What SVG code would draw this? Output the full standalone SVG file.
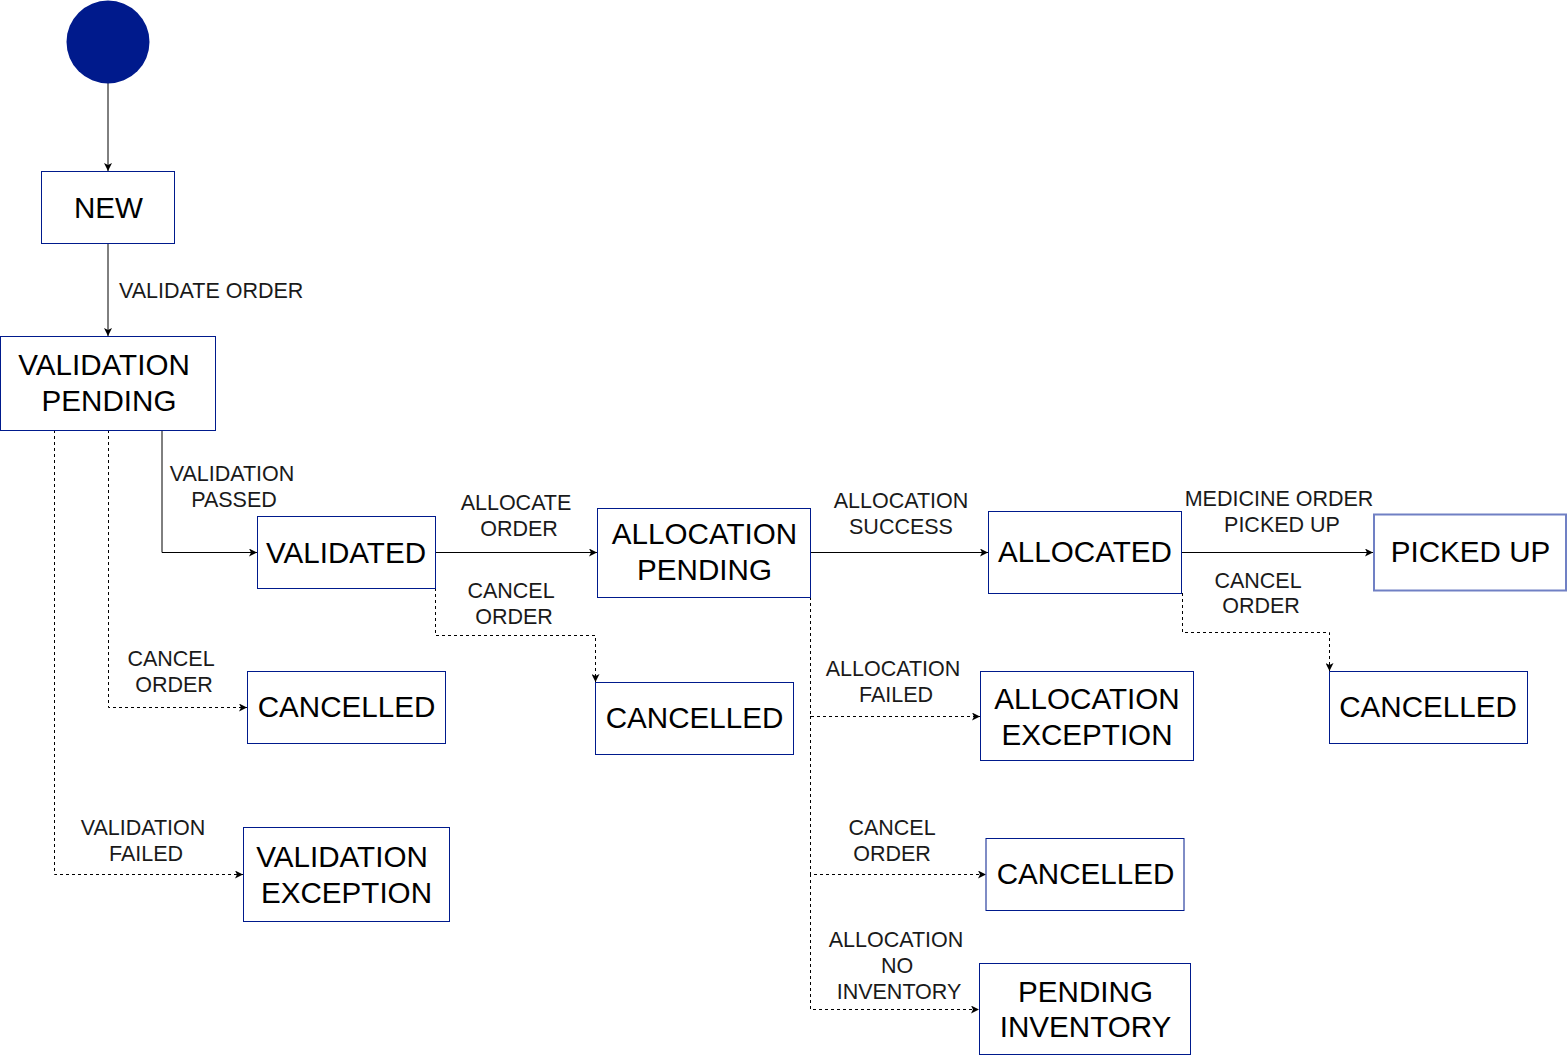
<svg xmlns="http://www.w3.org/2000/svg" width="1568" height="1056" viewBox="0 0 1568 1056">
<style>
.node{fill:#ffffff;stroke:#001A8C;stroke-width:1}
.nt{font-family:"Liberation Sans",Arial,sans-serif;font-size:29.6px;fill:#000000;text-anchor:middle}
.lt{font-family:"Liberation Sans",Arial,sans-serif;font-size:21.5px;fill:#1a1a1a;text-anchor:middle}
.solid{fill:none;stroke:#000000;stroke-width:1}
.dash{fill:none;stroke:#000000;stroke-width:1;stroke-dasharray:3 3}
</style>
<defs>
<marker id="arr" viewBox="0 0 8 8" refX="8" refY="4" markerWidth="8" markerHeight="8" markerUnits="userSpaceOnUse" orient="auto">
<path d="M0,0 L8,4 L0,8 L2,4 Z" fill="#000000"/>
</marker>
</defs>
<rect width="1568" height="1056" fill="#ffffff"/>
<g id="connectors">
<path class="solid" d="M108,83 L108,171" marker-end="url(#arr)"/>
<path class="solid" d="M108,243 L108,336" marker-end="url(#arr)"/>
<path class="solid" d="M162,430 L162,552.5 L257,552.5" marker-end="url(#arr)"/>
<path class="solid" d="M435,552.5 L597,552.5" marker-end="url(#arr)"/>
<path class="dash" d="M435.5,588 L435.5,635.5 L595.5,635.5 L595.5,682" marker-end="url(#arr)"/>
<path class="solid" d="M810,552.5 L988,552.5" marker-end="url(#arr)"/>
<path class="solid" d="M1181,552.5 L1373,552.5" marker-end="url(#arr)"/>
<path class="dash" d="M1182.5,593 L1182.5,632.5 L1329.5,632.5 L1329.5,671" marker-end="url(#arr)"/>
<path class="dash" d="M810.5,597 L810.5,716.5 L980,716.5" marker-end="url(#arr)"/>
<path class="dash" d="M810.5,716 L810.5,874.5 L986,874.5" marker-end="url(#arr)"/>
<path class="dash" d="M810.5,874 L810.5,1009.5 L979,1009.5" marker-end="url(#arr)"/>
<path class="dash" d="M108.5,430 L108.5,707.5 L247,707.5" marker-end="url(#arr)"/>
<path class="dash" d="M54.5,430 L54.5,874.5 L243,874.5" marker-end="url(#arr)"/>
</g>
<g id="labels">
<text class="lt" x="119" y="298" style="text-anchor:start">VALIDATE ORDER</text>
<text class="lt" x="232" y="481">VALIDATION</text>
<text class="lt" x="234" y="507">PASSED</text>
<text class="lt" x="516" y="510">ALLOCATE</text>
<text class="lt" x="519" y="536">ORDER</text>
<text class="lt" x="511" y="598">CANCEL</text>
<text class="lt" x="514" y="624">ORDER</text>
<text class="lt" x="901" y="508">ALLOCATION</text>
<text class="lt" x="901" y="534">SUCCESS</text>
<text class="lt" x="1279" y="506">MEDICINE ORDER</text>
<text class="lt" x="1282" y="532">PICKED UP</text>
<text class="lt" x="1258" y="588">CANCEL</text>
<text class="lt" x="1261" y="613">ORDER</text>
<text class="lt" x="893" y="676">ALLOCATION</text>
<text class="lt" x="896" y="702">FAILED</text>
<text class="lt" x="892" y="835">CANCEL</text>
<text class="lt" x="892" y="861">ORDER</text>
<text class="lt" x="896" y="947">ALLOCATION</text>
<text class="lt" x="897" y="973">NO</text>
<text class="lt" x="899" y="999">INVENTORY</text>
<text class="lt" x="171" y="666">CANCEL</text>
<text class="lt" x="174" y="692">ORDER</text>
<text class="lt" x="143" y="835">VALIDATION</text>
<text class="lt" x="146" y="861">FAILED</text>
</g>
<g id="start">
<circle cx="108" cy="42" r="41.5" fill="#001A8C"/>
</g>
<g id="new">
<rect class="node" x="41.5" y="171.5" width="133" height="72"/>
<text class="nt" x="108.5" y="218">NEW</text>
</g>
<g id="validation-pending">
<rect class="node" x="0.5" y="336.5" width="215" height="94"/>
<text class="nt" x="104" y="375">VALIDATION</text>
<text class="nt" x="109" y="411">PENDING</text>
</g>
<g id="validated">
<rect class="node" x="257.5" y="516.5" width="178" height="72"/>
<text class="nt" x="346" y="563">VALIDATED</text>
</g>
<g id="allocation-pending">
<rect class="node" x="597.5" y="508.5" width="213" height="89"/>
<text class="nt" x="704.5" y="544">ALLOCATION</text>
<text class="nt" x="704.5" y="580">PENDING</text>
</g>
<g id="cancelled-2">
<rect class="node" x="595.5" y="682.5" width="198" height="72"/>
<text class="nt" x="694.5" y="728">CANCELLED</text>
</g>
<g id="allocated">
<rect class="node" x="988.5" y="511.5" width="193" height="82"/>
<text class="nt" x="1085" y="562">ALLOCATED</text>
</g>
<g id="picked-up">
<rect x="1374" y="514.5" width="192" height="76" fill="#ffffff" stroke="#7080C4" stroke-width="2"/>
<text class="nt" x="1470.5" y="562">PICKED UP</text>
</g>
<g id="allocation-exception">
<rect class="node" x="980.5" y="671.5" width="213" height="89"/>
<text class="nt" x="1087" y="709">ALLOCATION</text>
<text class="nt" x="1087" y="745">EXCEPTION</text>
</g>
<g id="cancelled-4">
<rect class="node" x="1329.5" y="671.5" width="198" height="72"/>
<text class="nt" x="1428" y="717">CANCELLED</text>
</g>
<g id="cancelled-1">
<rect class="node" x="247.5" y="671.5" width="198" height="72"/>
<text class="nt" x="346.5" y="717">CANCELLED</text>
</g>
<g id="validation-exception">
<rect class="node" x="243.5" y="827.5" width="206" height="94"/>
<text class="nt" x="342" y="867">VALIDATION</text>
<text class="nt" x="346.5" y="903">EXCEPTION</text>
</g>
<g id="cancelled-3">
<rect class="node" x="986" y="838.5" width="198" height="72"/>
<text class="nt" x="1085.5" y="884">CANCELLED</text>
</g>
<g id="pending-inventory">
<rect class="node" x="979.5" y="963.5" width="211" height="91"/>
<text class="nt" x="1085.5" y="1002">PENDING</text>
<text class="nt" x="1085.5" y="1037">INVENTORY</text>
</g>
</svg>
